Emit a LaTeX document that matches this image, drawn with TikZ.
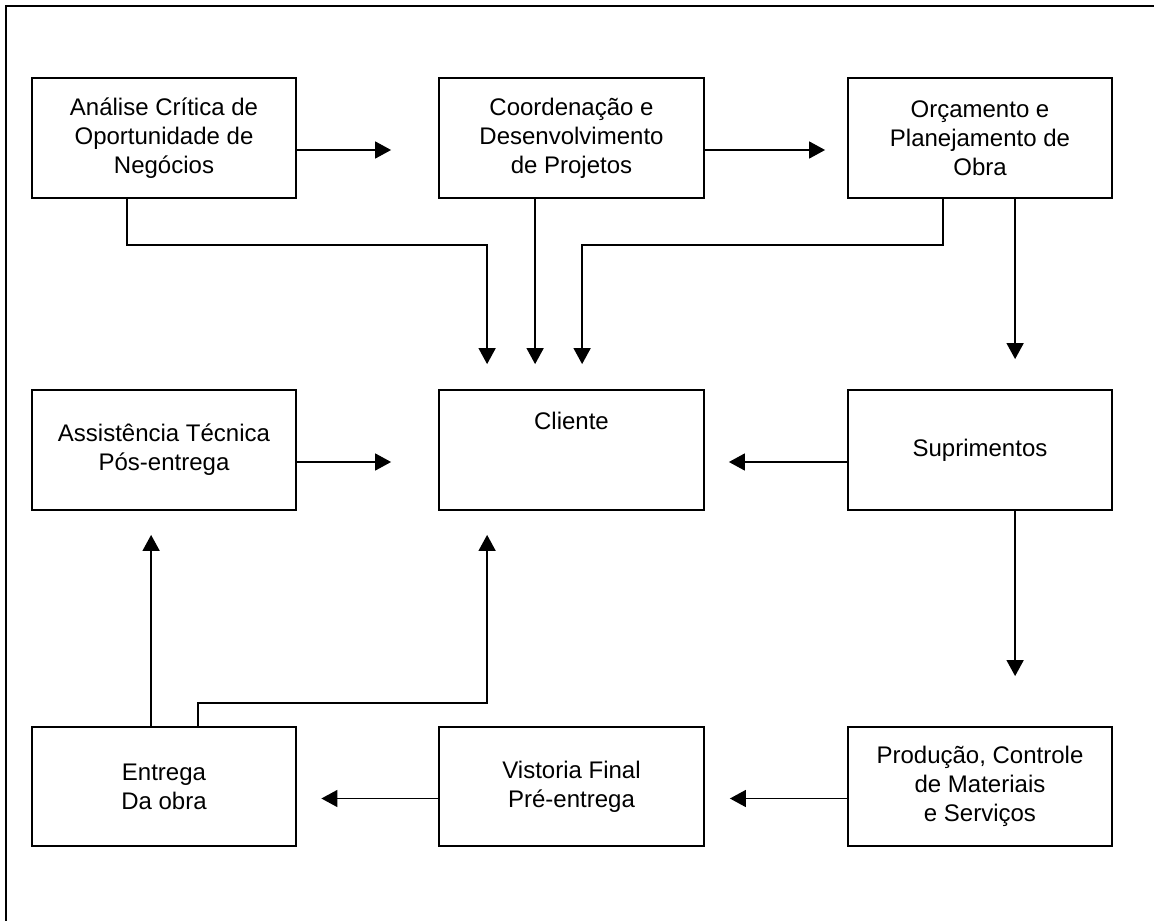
\documentclass[tikz,border=0pt]{standalone}
\usepackage{fontspec}
\setmainfont{Liberation Sans}
\usetikzlibrary{arrows.meta,calc}
\begin{document}
\begin{tikzpicture}[x=1pt,y=-1pt,
  box/.style={draw, line width=1.8pt, rectangle, minimum width=264pt, minimum height=120pt,
    inner sep=0pt, align=center, font=\fontsize{24}{28.8}\selectfont},
  arr/.style={line width=1.6pt, -{Triangle[length=16pt,width=17pt]}},
  frameline/.style={line width=2pt}]
\useasboundingbox (0,0) rectangle (1154,921);
\coordinate (ftop) at (6,6);
\coordinate (fright) at (1154,6);
\coordinate (fbottom) at (6,921);
\draw[frameline] (fright) -- (ftop) -- (fbottom);

\node[box] (a1) at (164,138) {Análise Crítica de\\Oportunidade de\\Negócios};
\node[box, minimum width=265pt] (a2) at (571.5,138) {Coordenação e\\Desenvolvimento\\de Projetos};
\node[box] (a3) at (980,138) {Orçamento e\\Planejamento de\\Obra};

\node[box] (b1) at (164,450) {Assistência Técnica\\Pós-entrega};
\node[box, minimum width=265pt, text height=17pt, text depth=59pt] (b2) at (571.5,450) {Cliente};
\node[box] (b3) at (980,450) {Suprimentos};

\node[box, minimum height=119pt] (c1) at (164,786.5) {Entrega\\Da obra};
\node[box, minimum width=265pt, minimum height=119pt] (c2) at (571.5,786.5) {Vistoria Final\\Pré-entrega};
\node[box, minimum height=119pt] (c3) at (980,786.5) {Produção, Controle\\de Materiais\\e Serviços};

% row 1 horizontal
\draw[arr] ($(a1.east)+(0,12)$) -- ($(a2.west)+(-47,12)$);
\draw[arr] ($(a2.east)+(0,12)$) -- ($(a3.west)+(-22,12)$);
% into Cliente from top
\draw[arr] ($(a1.south west)+(96,0)$) |- ($(b2.north west)+(49,-144)$) -- ($(b2.north west)+(49,-25)$);
\draw[arr] ($(a2.south west)+(97,0)$) -- ($(b2.north west)+(97,-25)$);
\draw[arr] ($(a3.south west)+(96,0)$) |- ($(b2.north west)+(144,-144)$) -- ($(b2.north west)+(144,-25)$);
% right column down
\draw[arr] ($(a3.south west)+(168,0)$) -- ($(b3.north west)+(168,-30)$);
\draw[arr] ($(b3.south west)+(168,0)$) -- ($(c3.north west)+(168,-50)$);
% row 2 horizontal
\draw[arr] ($(b1.east)+(0,12)$) -- ($(b2.west)+(-47,12)$);
\draw[arr] ($(b3.west)+(0,12)$) -- ($(b2.east)+(24,12)$);
% row 3 horizontal
\draw[arr] ($(c3.west)+(0,12)$) -- ($(c2.east)+(25,12)$);
\draw[arr] ($(c2.west)+(0,12)$) -- ($(c1.east)+(24.5,12)$);
% from Entrega upwards
\draw[arr] ($(c1.north west)+(120,0)$) -- ($(b1.south west)+(120,24)$);
\draw[arr] ($(c1.north west)+(167,0)$) |- ($(b2.south west)+(49,192)$) -- ($(b2.south west)+(49,24)$);
\end{tikzpicture}
\end{document}
